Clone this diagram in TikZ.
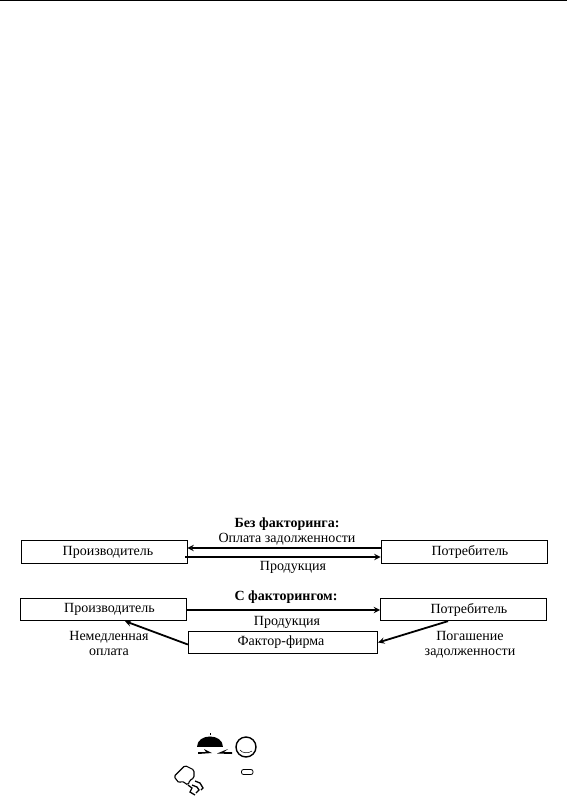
\documentclass[tikz,border=0pt]{standalone}
\usepackage{fontspec}
\setmainfont{Liberation Serif}
\begin{document}
\begin{tikzpicture}[x=1pt, y=-1pt, >=stealth, line width=0.8pt,
	every node/.style={font=\fontsize{14}{15}\selectfont},
	boxnode/.style={draw, inner sep=0pt, minimum width=166pt, minimum height=22.5pt},
	flowline/.style={->, line width=1.8pt},
	textnode/.style={inner sep=0pt, align=center}]
	\useasboundingbox (0,0) rectangle (567,796);
	% 1. top rule of the page
	\fill[black] (0,0) rectangle (567,1);
	
	% 2. boxes
	\node[boxnode] (prodA) at (104,552) {\hspace*{8pt}\raisebox{-1pt}{Производитель}};
	\node[boxnode] (potrA) at (464,552) {\hspace*{12pt}\raisebox{-1pt}{Потребитель}};
	\node[boxnode] (prodB) at (103.5,609.5) {\hspace*{12pt}\raisebox{-1pt}{Производитель}};
	\node[boxnode] (potrB) at (463.5,609.5) {\hspace*{11pt}\raisebox{-1pt}{Потребитель}};
	\node[boxnode, minimum width=189.5pt] (firm) at (283,642.5) {\hspace*{-4pt}\raisebox{-1pt}{Фактор-фирма}};
	
	% 3. captions
	\node[textnode, font=\fontsize{14}{15}\selectfont\bfseries] (titleA) at (287,524.5) {Без факторинга:};
	\node[textnode] (payA) at (287,539) {Оплата задолженности};
	\node[textnode] (goodsA) at (293,567) {Продукция};
	\node[textnode, font=\fontsize{14}{15}\selectfont\bfseries] (titleB) at (286,597) {С факторингом:};
	\node[textnode] (goodsB) at (287,622.5) {Продукция};
	\node[textnode] (payNow) at (109,643.5) {Немедленная\\оплата};
	\node[textnode] (payOff) at (470,645) {Погашение\\задолженности};
	
	% 4. arrows
	\draw[flowline] ([yshift=4pt]potrA.west) -- ([yshift=4pt]prodA.east);
	\draw[flowline] ([xshift=-2pt,yshift=-5pt]prodA.east) -- ([yshift=-5pt]potrA.west);
	\draw[flowline] ([yshift=-0.5pt]prodB.east) -- ([yshift=-0.5pt]potrB.west);
	\draw[flowline] ([yshift=-2pt]firm.west) -- ([xshift=21.5pt]prodB.south);
	\draw[flowline] ([xshift=-15.5pt]potrB.south) -- (firm.east);
	
	% 5. scraps at the foot of the page
	\fill (197,747) .. controls (197,733) and (223,733) .. (223,747) -- cycle;
	\draw (210,735) -- (210,732.5);
	\fill (198,752) -- (206,752) -- (204,749) -- (212,753) -- (198,754) -- cycle;
	\fill (232,752) -- (224,752) -- (228,749) -- (217,753.5) -- (232,754) -- cycle;
	\draw[line width=1.4pt] (246,747) circle (10);
	\draw[line width=0.5pt] (240,750) .. controls (242,753) and (248,754) .. (252,751);
	\draw[line width=0.8pt, rounded corners=2pt] (241.5,769.5) rectangle (253,774.5);
	\draw[line width=1.1pt, rounded corners=1.5pt] (174,776.5) -- (185,765.5) -- (194,770)
		-- (194,778) -- (190,780) -- (188,785) -- (182,781) -- (179,783) -- cycle;
	\draw[line width=1.3pt] (188,785) -- (192,788) -- (190,792) -- (195,795)
		(195,781) -- (200,783) -- (203,788) -- (201,790)
		(192,785) -- (197,787) -- (199,790) -- (196,793);
\end{tikzpicture}
\end{document}
